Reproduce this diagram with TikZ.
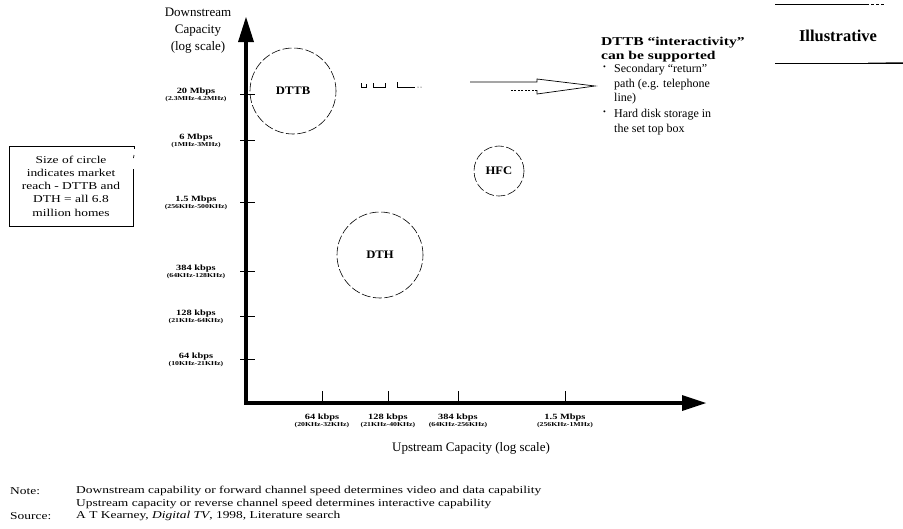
\documentclass[tikz,border=0pt]{standalone}
\usepackage{fontspec}
\setmainfont{Liberation Serif}
\newfontfamily\stA[FakeStretch=1.3,Ligatures=TeX]{Liberation Serif}
\newfontfamily\stC[FakeStretch=1.1,Ligatures=TeX]{Liberation Serif}
\newfontfamily\stD[FakeStretch=1.28,Ligatures=TeX]{Liberation Serif}
\usetikzlibrary{arrows.meta}
\begin{document}
\begin{tikzpicture}[x=1pt,y=-1pt,
  axis/.style={line width=3.5pt},
  tick/.style={line width=0.8pt},
  bubble/.style={circle,draw,dash pattern=on 9pt off 2.5pt,line width=0.6pt,font=\stC\bfseries\fontsize{11.5}{12}\selectfont},
  alab/.style={align=center,font=\stA\bfseries\fontsize{8}{7}\selectfont,inner sep=0pt},
  note/.style={font=\stD\fontsize{10.5}{12}\selectfont,inner sep=0pt,anchor=west}
]
\useasboundingbox (0,0) rectangle (903,528);
% axes
\coordinate (O) at (246,403);
\coordinate (Ytop) at (246,17);
\coordinate (Xend) at (706,403);
\draw[axis] (246,403) -- (246,38);
\draw[axis] (244.25,403) -- (686,403);
\fill (Ytop) -- (254,42) -- (238,42) -- cycle;
\fill (Xend) -- (682,395) -- (682,411) -- cycle;
% y ticks and labels
\foreach \yy/\a/\b in {94/20 Mbps/(2.3MHz-4.2MHz), 140/6 Mbps/(1MHz-3MHz), 202/1.5 Mbps/(256KHz-500KHz), 271/384 kbps/(64KHz-128KHz), 316/128 kbps/(21KHz-64KHz), 359/64 kbps/(10KHz-21KHz)}{
  \draw[tick] (240,\yy) -- (255,\yy);
  \node[alab] at (196,\yy+1) {\a\\{\fontsize{6}{6}\selectfont\b}};
}
% x ticks and labels
\foreach \xx/\a/\b in {322/64 kbps/(20KHz-32KHz), 388/128 kbps/(21KHz-40KHz), 458/384 kbps/(64KHz-256KHz), 565/1.5 Mbps/(256KHz-1MHz)}{
  \draw[tick] (\xx,391) -- (\xx,403);
  \node[alab] at (\xx,421) {\a\\{\fontsize{6}{6}\selectfont\b}};
}
% axis titles
\node[align=center,font=\fontsize{13}{17}\selectfont] (ytitle) at (198,31) {Downstream\\Capacity\\(log scale)};
\node[font=\fontsize{13}{15}\selectfont] (xtitle) at (471,448) {Upstream Capacity (log scale)};
% bubbles
\node[bubble,minimum size=86pt] (dttb) at (293,91) {DTTB};
\node[bubble,minimum size=50pt] (hfc) at (499,171) {HFC};
\node[bubble,minimum size=86pt] (dth) at (380,255) {DTH};
% small marks
\draw[line width=0.6pt] (361,83) -- (361,87) -- (366,87) -- (366,84);
\draw[line width=0.6pt] (373,83) -- (373,87) -- (385,87) -- (385,83);
\draw[line width=0.6pt] (397,82) -- (397,87) -- (415,87);
\fill (418,87) circle (0.5) (421,87) circle (0.5);
% block arrow
\coordinate (a0) at (470,82);
\coordinate (a1) at (595,86);
\draw[line width=0.7pt,line join=miter] (a0) -- (537,82) -- (537,79) -- (a1) -- (537,94) -- (537,90);
\draw[line width=0.6pt,dash pattern=on 2pt off 1.5pt] (537,90) -- (510,90);
% right text
\node[anchor=north west,align=left,inner sep=0pt,font=\stA\bfseries\fontsize{12}{14}\selectfont] (head) at (601,37) {DTTB “interactivity”\\can be supported};
\node[anchor=north west,inner sep=0pt,font=\fontsize{8}{14.5}\selectfont] (b1) at (603,66) {•};
\node[anchor=north west,align=left,inner sep=0pt,font=\fontsize{12}{14.5}\selectfont] (b1t) at (614,64) {Secondary “return”\\path (e.g. telephone\\line)};
\node[anchor=north west,inner sep=0pt,font=\fontsize{8}{14.5}\selectfont] (b2) at (603,111) {•};
\node[anchor=north west,align=left,inner sep=0pt,font=\fontsize{12}{14.5}\selectfont] (b2t) at (614,109) {Hard disk storage in\\the set top box};
% illustrative
\node[font=\bfseries\fontsize{16.5}{18}\selectfont] (ill) at (838,36) {Illustrative};
\coordinate (l1a) at (775,4); \coordinate (l1b) at (866,4); \coordinate (l1c) at (884,4);
\draw[line width=0.7pt] (l1a) -- (l1b);
\draw[line width=0.7pt,dash pattern=on 3pt off 2pt] (l1b) -- (l1c);
\coordinate (l2a) at (775,63); \coordinate (l2b) at (903,63);
\draw[line width=0.7pt] (l2a) -- (l2b);
\draw[line width=1.3pt] (868,63.3) -- (l2b);
% left box
\node[align=center,inner sep=0pt,font=\stD\fontsize{10.5}{13.3}\selectfont] (box) at (71,186) {Size of circle\\indicates market\\reach - DTTB and\\DTH = all 6.8\\million homes};
\coordinate (bx1) at (9,146); \coordinate (bx2) at (134,146);
\draw[line width=0.7pt] (134,149) -- (bx2) -- (bx1) -- (9,226) -- (133,226) -- (133,169);
\draw[line width=0.7pt] (134,155) -- (133.5,158);
% notes
\node[note] (n1) at (10,491) {Note:};
\node[note] (n2) at (76,491) {Downstream capability or forward channel speed determines video and data capability};
\node[note] (n3) at (76,503.5) {Upstream capacity or reverse channel speed determines interactive capability};
\node[note] (n4) at (10,516) {Source:};
\node[note] (n5) at (76,516) {A T Kearney, \textit{Digital TV}, 1998, Literature search};
\end{tikzpicture}
\end{document}
